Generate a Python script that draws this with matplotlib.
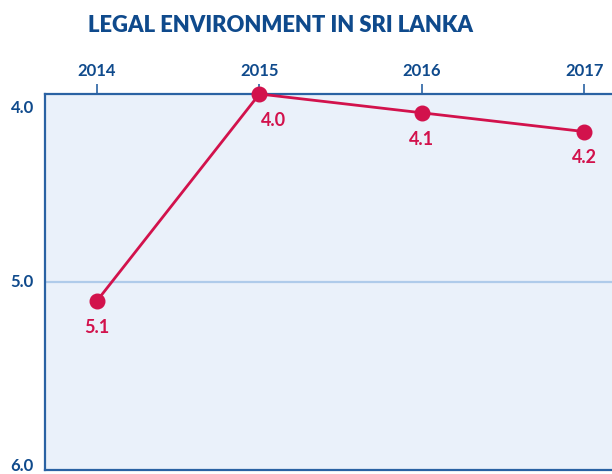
import matplotlib.pyplot as plt
from matplotlib.transforms import ScaledTranslation

years = [2014, 2015, 2016, 2017]
scores = [5.1, 4.0, 4.1, 4.2]
score_labels = ["5.1", "4.0", "4.1", "4.2"]
ytick_vals = [4.0, 5.0, 6.0]
ytick_labels = ["4.0", "5.0", "6.0"]

navy = "#0F4A8C"
axis_blue = "#2A62A3"
crimson = "#D2124C"
panel = "#EAF1FA"

plt.rcParams["font.family"] = ["Lato", "DejaVu Sans"]

fig = plt.figure(figsize=(6.12, 4.74), dpi=100)
ax = fig.add_axes([45 / 612, 4 / 474, 1 - 45 / 612, 376 / 474])
ax.set_facecolor(panel)

ax.set_xlim(2013.68, 2017.17)
ax.set_ylim(6.0, 4.0)

ax.axhline(5.0, color="#AFCBEA", lw=1.6, zorder=1)
ax.plot(years, scores, color=crimson, lw=2.0, marker="o", ms=10.5,
        zorder=3, clip_on=False)

# value labels sit under each point; 2015 shifted right to clear the line
for x, y, lab in zip(years, scores, score_labels):
    dx = 10 if x == 2015 else 0
    ax.annotate(lab, (x, y), xytext=(dx, -19), textcoords="offset points",
                ha="center", va="center", color=crimson, fontsize=13,
                fontweight="bold")

ax.xaxis.tick_top()
ax.set_xticks(years)
ax.set_xticklabels([str(y) for y in years])
ax.tick_params(axis="x", colors=axis_blue, length=7, width=1.2, pad=4,
               labelsize=12, labelcolor=navy)
for t in ax.get_xticklabels():
    t.set_fontweight("bold")

ax.set_yticks(ytick_vals)
ax.set_yticklabels(ytick_labels)
ax.tick_params(axis="y", length=0, pad=8, labelsize=12, labelcolor=navy)
# nudge the end labels inward so they sit inside the plot band
shifts = {"4.0": -0.14, "5.0": 0.0, "6.0": 0.04}
for t in ax.get_yticklabels():
    t.set_fontweight("bold")
    t.set_va("center")
    dy = shifts[t.get_text()]
    t.set_transform(t.get_transform() + ScaledTranslation(0, dy, fig.dpi_scale_trans))

for side in ["left", "top", "bottom"]:
    ax.spines[side].set_color(axis_blue)
    ax.spines[side].set_linewidth(1.6)
ax.spines["right"].set_visible(False)

fig.text(281 / 612, 1 - 25 / 474, "LEGAL ENVIRONMENT IN SRI LANKA", ha="center",
         va="center", color=navy, fontsize=15.8, fontweight="heavy")

fig.savefig("out.png", dpi=100)
